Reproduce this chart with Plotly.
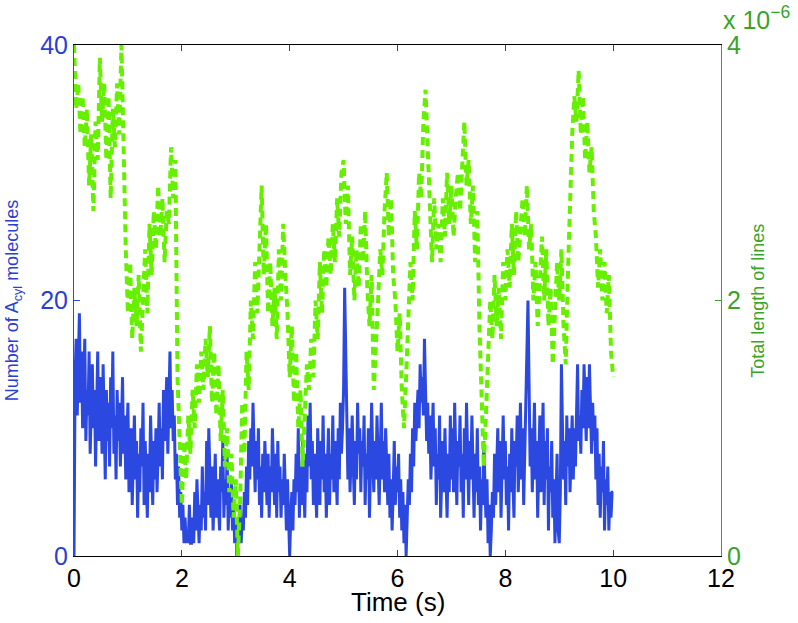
"""Acyl molecule count vs. total line length over time (plotyy style)."""

import plotly.graph_objects as go

# number of A_cyl molecules (left axis), sampled every 0.02 s from 0 to 10 s
acyl_count = [
    0, 14, 17, 11, 15, 19, 12, 16, 10, 14,
    17, 9, 13, 11, 16, 8, 12, 15, 10, 13,
    7, 11, 16, 9, 14, 12, 8, 15, 10, 6,
    13, 9, 12, 7, 14, 10, 16, 8, 11, 6,
    13, 9, 12, 7, 10, 14, 8, 11, 6, 9,
    # 1 s
    12, 5, 8, 10, 4, 7, 11, 6, 9, 3,
    8, 5, 10, 7, 12, 4, 9, 6, 3, 8,
    5, 11, 7, 4, 9, 6, 10, 5, 8, 12,
    7, 10, 6, 13, 9, 11, 14, 8, 12, 16,
    10, 13, 9, 11, 6, 8, 4, 7, 3, 5,
    # 2 s
    2, 4, 1, 3, 1, 2, 1, 4, 1, 1,
    3, 1, 5, 2, 6, 3, 1, 4, 2, 7,
    3, 5, 2, 9, 4, 10, 6, 3, 7, 2,
    5, 8, 3, 6, 4, 2, 7, 5, 9, 3,
    6, 4, 8, 2, 5, 3, 6, 2, 4, 1,
    # 3 s
    3, 0, 2, 1, 4, 1, 3, 2, 5, 3,
    7, 4, 9, 6, 10, 7, 12, 8, 5, 9,
    6, 10, 4, 7, 3, 8, 5, 9, 6, 4,
    8, 3, 7, 5, 10, 6, 4, 8, 3, 9,
    5, 7, 3, 6, 4, 8, 5, 2, 6, 3,
    # 4 s
    0, 3, 5, 2, 6, 4, 8, 5, 10, 3,
    7, 4, 9, 6, 3, 8, 5, 11, 7, 12,
    6, 9, 4, 8, 5, 3, 10, 7, 4, 9,
    6, 11, 5, 8, 3, 7, 10, 4, 8, 6,
    11, 5, 9, 7, 4, 10, 6, 12, 8, 10,
    # 5 s
    13, 21, 15, 9, 6, 10, 5, 8, 11, 7,
    4, 9, 6, 12, 8, 10, 5, 9, 7, 11,
    4, 8, 6, 10, 3, 7, 12, 8, 5, 9,
    6, 11, 7, 4, 8, 12, 6, 9, 5, 10,
    7, 4, 8, 3, 6, 2, 5, 9, 4, 7,
    # 6 s
    5, 8, 3, 6, 2, 5, 1, 4, 0, 3,
    6, 4, 8, 5, 10, 7, 12, 9, 11, 13,
    10, 15, 12, 14, 11, 17, 13, 9, 12, 8,
    11, 6, 9, 12, 7, 10, 4, 8, 6, 11,
    3, 7, 9, 5, 10, 6, 3, 8, 5, 11,
    # 7 s
    6, 10, 5, 12, 8, 4, 9, 7, 11, 5,
    8, 3, 10, 6, 12, 8, 4, 9, 6, 11,
    7, 3, 8, 5, 10, 4, 7, 2, 6, 4,
    9, 5, 3, 6, 1, 4, 0, 2, 5, 3,
    8, 4, 7, 10, 5, 9, 3, 7, 11, 6,
    # 8 s
    9, 4, 7, 2, 8, 5, 10, 6, 3, 9,
    7, 11, 5, 8, 12, 6, 10, 4, 9, 13,
    16, 20, 11, 7, 10, 5, 8, 12, 6, 9,
    3, 7, 11, 5, 8, 12, 4, 9, 6, 10,
    2, 7, 5, 9, 3, 6, 1, 4, 8, 2,
    # 9 s
    1, 5, 15, 10, 6, 9, 4, 11, 7, 10,
    5, 8, 11, 6, 10, 7, 12, 15, 9, 11,
    8, 13, 10, 15, 12, 9, 14, 10, 15, 11,
    8, 12, 9, 11, 6, 10, 4, 8, 3, 7,
    5, 9, 2, 6, 4, 7, 2, 5, 3, 5,
    # 10 s
    5,
]
count_time = [round(i * 0.02, 2) for i in range(len(acyl_count))]

# total length of lines, in units of 1e-6 (right axis), sampled every 0.04 s
line_length_e6 = [
    4.0, 3.5, 3.7, 3.3, 3.6, 3.2, 3.5, 2.9, 3.3, 2.7, 3.4, 3.1, 3.9, 3.4, 3.7, 3.1, 3.6, 2.8, 3.5, 3.2, 3.7, 3.3, 4.0, 3.0, 2.4,
    1.9, 2.3, 1.7, 2.1, 1.8, 2.2, 1.6, 2.0, 2.4, 1.9, 2.6, 2.2, 2.7, 2.4, 2.9, 2.5, 2.8, 2.3, 2.7, 2.6, 3.2, 2.8, 3.1, 1.4, 0.8,
    0.4, 0.9, 0.6, 1.1, 0.8, 1.3, 1.0, 1.5, 1.2, 1.6, 1.3, 1.7, 1.4, 1.8, 1.2, 1.6, 1.1, 1.5, 0.9, 1.3, 0.7, 1.0, 0.5, 0.8, 0.3,
    0.6, 0.0, 0.4, 1.2, 0.8, 1.6, 1.3, 2.0, 1.7, 2.3, 1.9, 2.5, 2.9, 2.2, 2.6, 1.9, 2.3, 1.8, 2.1, 1.7, 2.4, 2.0, 2.6, 2.2, 1.9,
    1.4, 1.8, 1.2, 1.6, 1.0, 1.3, 0.7, 1.1, 1.5, 1.3, 1.7, 1.4, 2.0, 1.7, 2.3, 1.9, 2.4, 2.1, 2.5, 2.2, 2.6, 2.3, 2.8, 2.5, 3.0,
    3.1, 2.6, 2.9, 2.2, 2.5, 2.0, 2.4, 2.1, 2.6, 2.3, 2.7, 2.1, 1.8, 2.2, 1.3, 1.6, 2.0, 2.4, 2.2, 2.7, 3.0, 2.5, 2.8, 2.2, 2.0,
    1.6, 1.9, 1.3, 1.0, 1.4, 1.9, 2.3, 2.0, 2.7, 2.4, 3.0, 2.8, 3.4, 3.65, 3.2, 2.7, 2.3, 2.8, 2.4, 2.6, 2.3, 2.8, 2.5, 3.0, 2.6,
    2.9, 2.5, 2.8, 3.0, 2.7, 3.1, 3.4, 2.9, 3.1, 2.6, 2.9, 2.3, 2.7, 1.8, 1.2, 0.7, 1.1, 1.6, 2.0, 1.7, 2.2, 1.8, 2.1, 1.7, 2.3,
    2.0, 2.4, 2.1, 2.6, 2.2, 2.7, 2.3, 2.6, 2.8, 2.5, 2.9, 2.4, 2.6, 2.0, 2.3, 1.8, 2.2, 2.5, 2.0, 2.4, 1.8, 2.1, 1.5, 1.9, 2.3,
    2.0, 2.4, 1.8, 1.5, 2.2, 2.9, 3.3, 3.6, 3.4, 3.8, 3.3, 3.6, 3.1, 3.4, 3.0, 3.2, 2.7, 2.5, 2.1, 2.4, 2.0, 2.3, 1.9, 2.2, 1.6,
    1.4,
]
length_time = [round(i * 0.04, 2) for i in range(len(line_length_e6))]

x_ticks = [0, 2, 4, 6, 8, 10, 12]
left_ticks = [0, 20, 40]
right_ticks = [0, 2, 4]

BLUE = "#2b48e0"
BLUE_TXT = "#2a3fd0"
LIME = "#66f000"
GREEN_TXT = "#3aa32a"
FONT = "Liberation Sans, Arial, sans-serif"

fig = go.Figure()
fig.add_trace(go.Scatter(
    x=count_time, y=acyl_count, mode="lines",
    line=dict(color=BLUE, width=3), hoverinfo="skip",
))
fig.add_trace(go.Scatter(
    x=length_time, y=line_length_e6, mode="lines", yaxis="y2",
    line=dict(color=LIME, width=4, dash="8px,5px"), hoverinfo="skip",
))

fig.update_layout(
    width=798, height=623,
    margin=dict(l=74, r=77, t=45, b=67, autoexpand=False),
    paper_bgcolor="white", plot_bgcolor="white",
    showlegend=False,
    font=dict(family=FONT),
    xaxis=dict(
        range=[0, 12], tickvals=x_ticks, ticks="inside", ticklen=6,
        showline=True, linecolor="black", linewidth=1, mirror="ticks",
        showgrid=False, zeroline=False, automargin=False,
        tickfont=dict(size=25, color="black"),
    ),
    yaxis=dict(
        range=[0, 40], tickvals=left_ticks, ticks="inside", ticklen=6,
        showline=True, linecolor=BLUE, linewidth=1, tickcolor=BLUE,
        showgrid=False, zeroline=False, automargin=False,
        tickfont=dict(size=25, color=BLUE_TXT),
    ),
    yaxis2=dict(
        range=[0, 4], tickvals=right_ticks, ticks="inside", ticklen=6,
        overlaying="y", side="right",
        showline=True, linecolor=GREEN_TXT, linewidth=1, tickcolor=GREEN_TXT,
        showgrid=False, zeroline=False, automargin=False,
        tickfont=dict(size=25, color=GREEN_TXT),
    ),
    annotations=[
        dict(text="Time (s)",
             xref="paper", yref="paper", x=0.5, y=-0.09,
             xanchor="center", yanchor="middle", showarrow=False,
             font=dict(size=26, color="black")),
        dict(text="Number of A<sub>cyl</sub> molecules", textangle=-90,
             xref="paper", yref="paper", x=-0.093, y=0.5,
             xanchor="center", yanchor="middle", showarrow=False,
             font=dict(size=18, color=BLUE_TXT)),
        dict(text="Total length of lines", textangle=-90,
             xref="paper", yref="paper", x=1.056, y=0.5,
             xanchor="center", yanchor="middle", showarrow=False,
             font=dict(size=18, color=GREEN_TXT)),
        dict(text="x 10<sup>\u22126</sup>",
             xref="paper", yref="paper", x=1.0, y=1.0,
             xanchor="left", yanchor="bottom", xshift=0, yshift=9, showarrow=False,
             font=dict(size=25, color=GREEN_TXT)),
    ],
)

# drop the default 8px body margin so the figure fills the window exactly
fig.write_html(
    "out.html",
    config={"displayModeBar": False},
    post_script="document.body.style.margin='0';",
)
